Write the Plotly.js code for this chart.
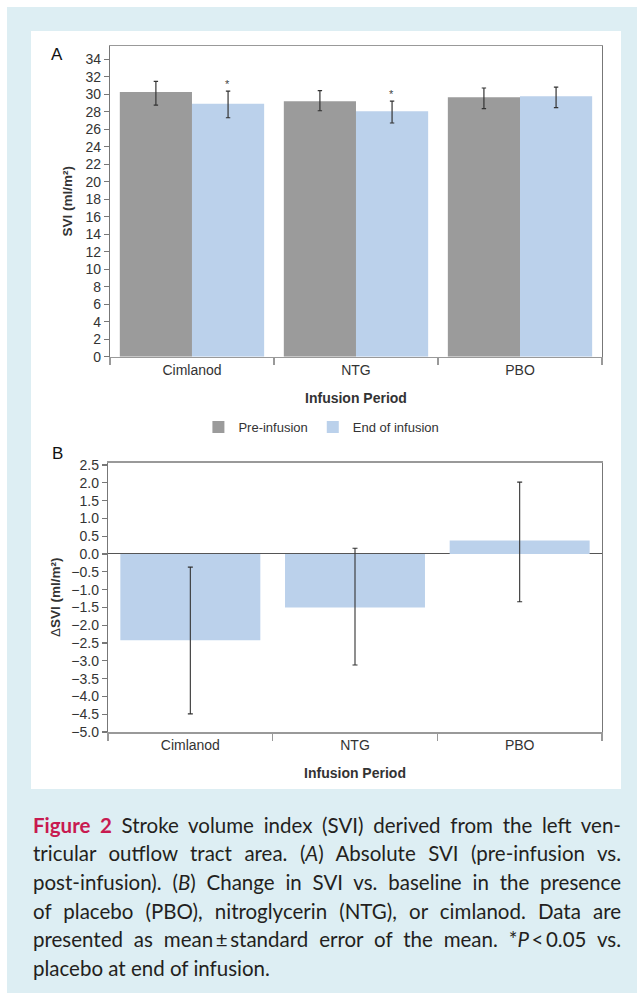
<!DOCTYPE html>
<html>
<head>
<meta charset="utf-8">
<script src="https://cdn.plot.ly/plotly-3.0.1.min.js"></script>
<style>
  html, body { margin:0; padding:0; background:#ffffff; width:637px; height:999px; overflow:hidden; }
  #frame { position:absolute; left:7px; top:7px; width:630px; height:986px; background:#ddeef3; }
  #panel { position:absolute; left:31px; top:31px; width:590px; height:758px; background:#ffffff; }
  #chart { position:absolute; left:0; top:0; width:590px; height:758px; }
  .cap { position:absolute; left:33px; width:588px; font-family:Lato, "Open Sans", sans-serif; font-size:20.5px;
         color:#231f20; line-height:28.7px; height:28.7px; text-align:justify; text-align-last:justify; white-space:nowrap; }
  .cap.last { text-align:left; text-align-last:left; }
  .fig { color:#c81a50; font-weight:bold; }
</style>
</head>
<body>
<div id="frame"></div>
<div id="panel"><div id="chart"></div></div>
<div class="cap" style="top:810.5px"><span class="fig">Figure 2</span> Stroke volume index (SVI) derived from the left ven-</div>
<div class="cap" style="top:839.2px">tricular outflow tract area. (<i>A</i>) Absolute SVI (pre-infusion vs.</div>
<div class="cap" style="top:867.9px">post-infusion). (<i>B</i>) Change in SVI vs. baseline in the presence</div>
<div class="cap" style="top:896.6px">of placebo (PBO), nitroglycerin (NTG), or cimlanod. Data are</div>
<div class="cap" style="top:925.3px">presented as mean&#8201;±&#8201;standard error of the mean. *<i>P</i>&#8201;&lt;&#8201;0.05 vs.</div>
<div class="cap last" style="top:954px">placebo at end of infusion.</div>
<script>
// ---- data ----
var categories = ["Cimlanod", "NTG", "PBO"];
var preInfusion = [30.25, 29.2, 29.65];
var preErrUp = [1.2, 1.2, 1.05];
var preErrDown = [1.5, 1.1, 1.3];
var endInfusion = [28.9, 28.05, 29.75];
var endErrUp = [1.45, 1.15, 1.05];
var endErrDown = [1.6, 1.35, 1.3];
var endSignif = ["*", "*", ""];
var deltaSVI = [-2.42, -1.50, 0.38];
var deltaErrUp = [2.05, 1.66, 1.64];
var deltaErrDown = [2.07, 1.62, 1.72];

var FONT = '"Liberation Sans", Arial, sans-serif';
var GREY = '#9b9b9b', BLUE = '#bbd1eb', TXT = '#333333';

var traces = [
  {type:'bar', name:'Pre-infusion', x:categories, y:preInfusion, xaxis:'x', yaxis:'y',
   width:0.44, offset:-0.44, marker:{color:GREY, line:{width:0}},
   error_y:{type:'data', array:preErrUp, arrayminus:preErrDown, color:'#333', thickness:1.2, width:2.2}},
  {type:'bar', name:'End of infusion', x:categories, y:endInfusion, xaxis:'x', yaxis:'y',
   width:0.44, offset:0, marker:{color:BLUE, line:{width:0}},
   error_y:{type:'data', array:endErrUp, arrayminus:endErrDown, color:'#333', thickness:1.2, width:2.2}},
  {type:'bar', name:'ΔSVI', x:categories, y:deltaSVI, xaxis:'x2', yaxis:'y2', showlegend:false,
   width:0.85, offset:-0.425, marker:{color:BLUE, line:{width:0}},
   error_y:{type:'data', array:deltaErrUp, arrayminus:deltaErrDown, color:'#333', thickness:1.1, width:2.5}}
];

var annotations = [
  {text:'A', xref:'paper', yref:'paper', x:-0.103, y:0.987, xanchor:'center', yanchor:'middle', showarrow:false, font:{family:FONT, size:17, color:'#111'}},
  {text:'B', xref:'paper', yref:'paper', x:-0.103, y:0.4067, xanchor:'center', yanchor:'middle', showarrow:false, font:{family:FONT, size:17, color:'#111'}}
];
categories.forEach(function(c, i){
  if (endSignif[i]) {
    annotations.push({text:endSignif[i], xref:'x', yref:'y', x:c, xshift:36, y:endInfusion[i] + endErrUp[i],
      xanchor:'center', yanchor:'bottom', yshift:-1, showarrow:false, font:{family:FONT, size:11, color:'#444'}});
  }
});

var axCommon = {
  showline:true, mirror:true, linecolor:'#777', linewidth:1.2,
  showgrid:false, zeroline:false, ticks:'outside', ticklen:5, tickcolor:'#777', tickwidth:1.2,
  tickfont:{family:FONT, size:14, color:TXT}
};

var layout = {
  width:590, height:758,
  margin:{l:77, r:19, t:15, b:57},
  paper_bgcolor:'rgba(0,0,0,0)', plot_bgcolor:'#ffffff',
  font:{family:FONT, color:TXT},
  barmode:'group',
  showlegend:true,
  legend:{orientation:'h', x:0.432, xanchor:'center', y:0.4446, yanchor:'middle',
          font:{family:FONT, size:13, color:TXT}, traceorder:'normal', itemclick:false},
  xaxis:Object.assign({}, axCommon, {anchor:'y', domain:[0.004, 1], type:'category', tickson:'boundaries', ticklen:7,
        linecolor:'#999', tickcolor:'#999', linewidth:1.5,
        title:{text:'<b>Infusion Period</b>', font:{family:FONT, size:14, color:TXT}, standoff:16}}),
  yaxis:Object.assign({}, axCommon, {anchor:'x', domain:[0.5471, 1], range:[0, 35.5], dtick:2, tick0:0,
        title:{text:'<b>SVI (ml/m²)</b>', font:{family:FONT, size:13.5, color:TXT}, standoff:9}}),
  xaxis2:Object.assign({}, axCommon, {anchor:'y2', domain:[0, 1], type:'category', tickson:'boundaries', ticklen:7,
        linecolor:'#999', tickcolor:'#999', linewidth:1.5,
        title:{text:'<b>Infusion Period</b>', font:{family:FONT, size:14, color:TXT}, standoff:16}}),
  yaxis2:Object.assign({}, axCommon, {anchor:'x2', domain:[0, 0.3926], range:[-5, 2.565], dtick:0.5, tick0:0,
        tickformat:'.1f', zeroline:true, zerolinecolor:'#555', zerolinewidth:1,
        title:{text:'Δ<b>SVI (ml/m²)</b>', font:{family:FONT, size:13.5, color:TXT}, standoff:7}}),
  annotations:annotations
};

Plotly.newPlot('chart', traces, layout, {displayModeBar:false, staticPlot:true});
</script>
</body>
</html>
